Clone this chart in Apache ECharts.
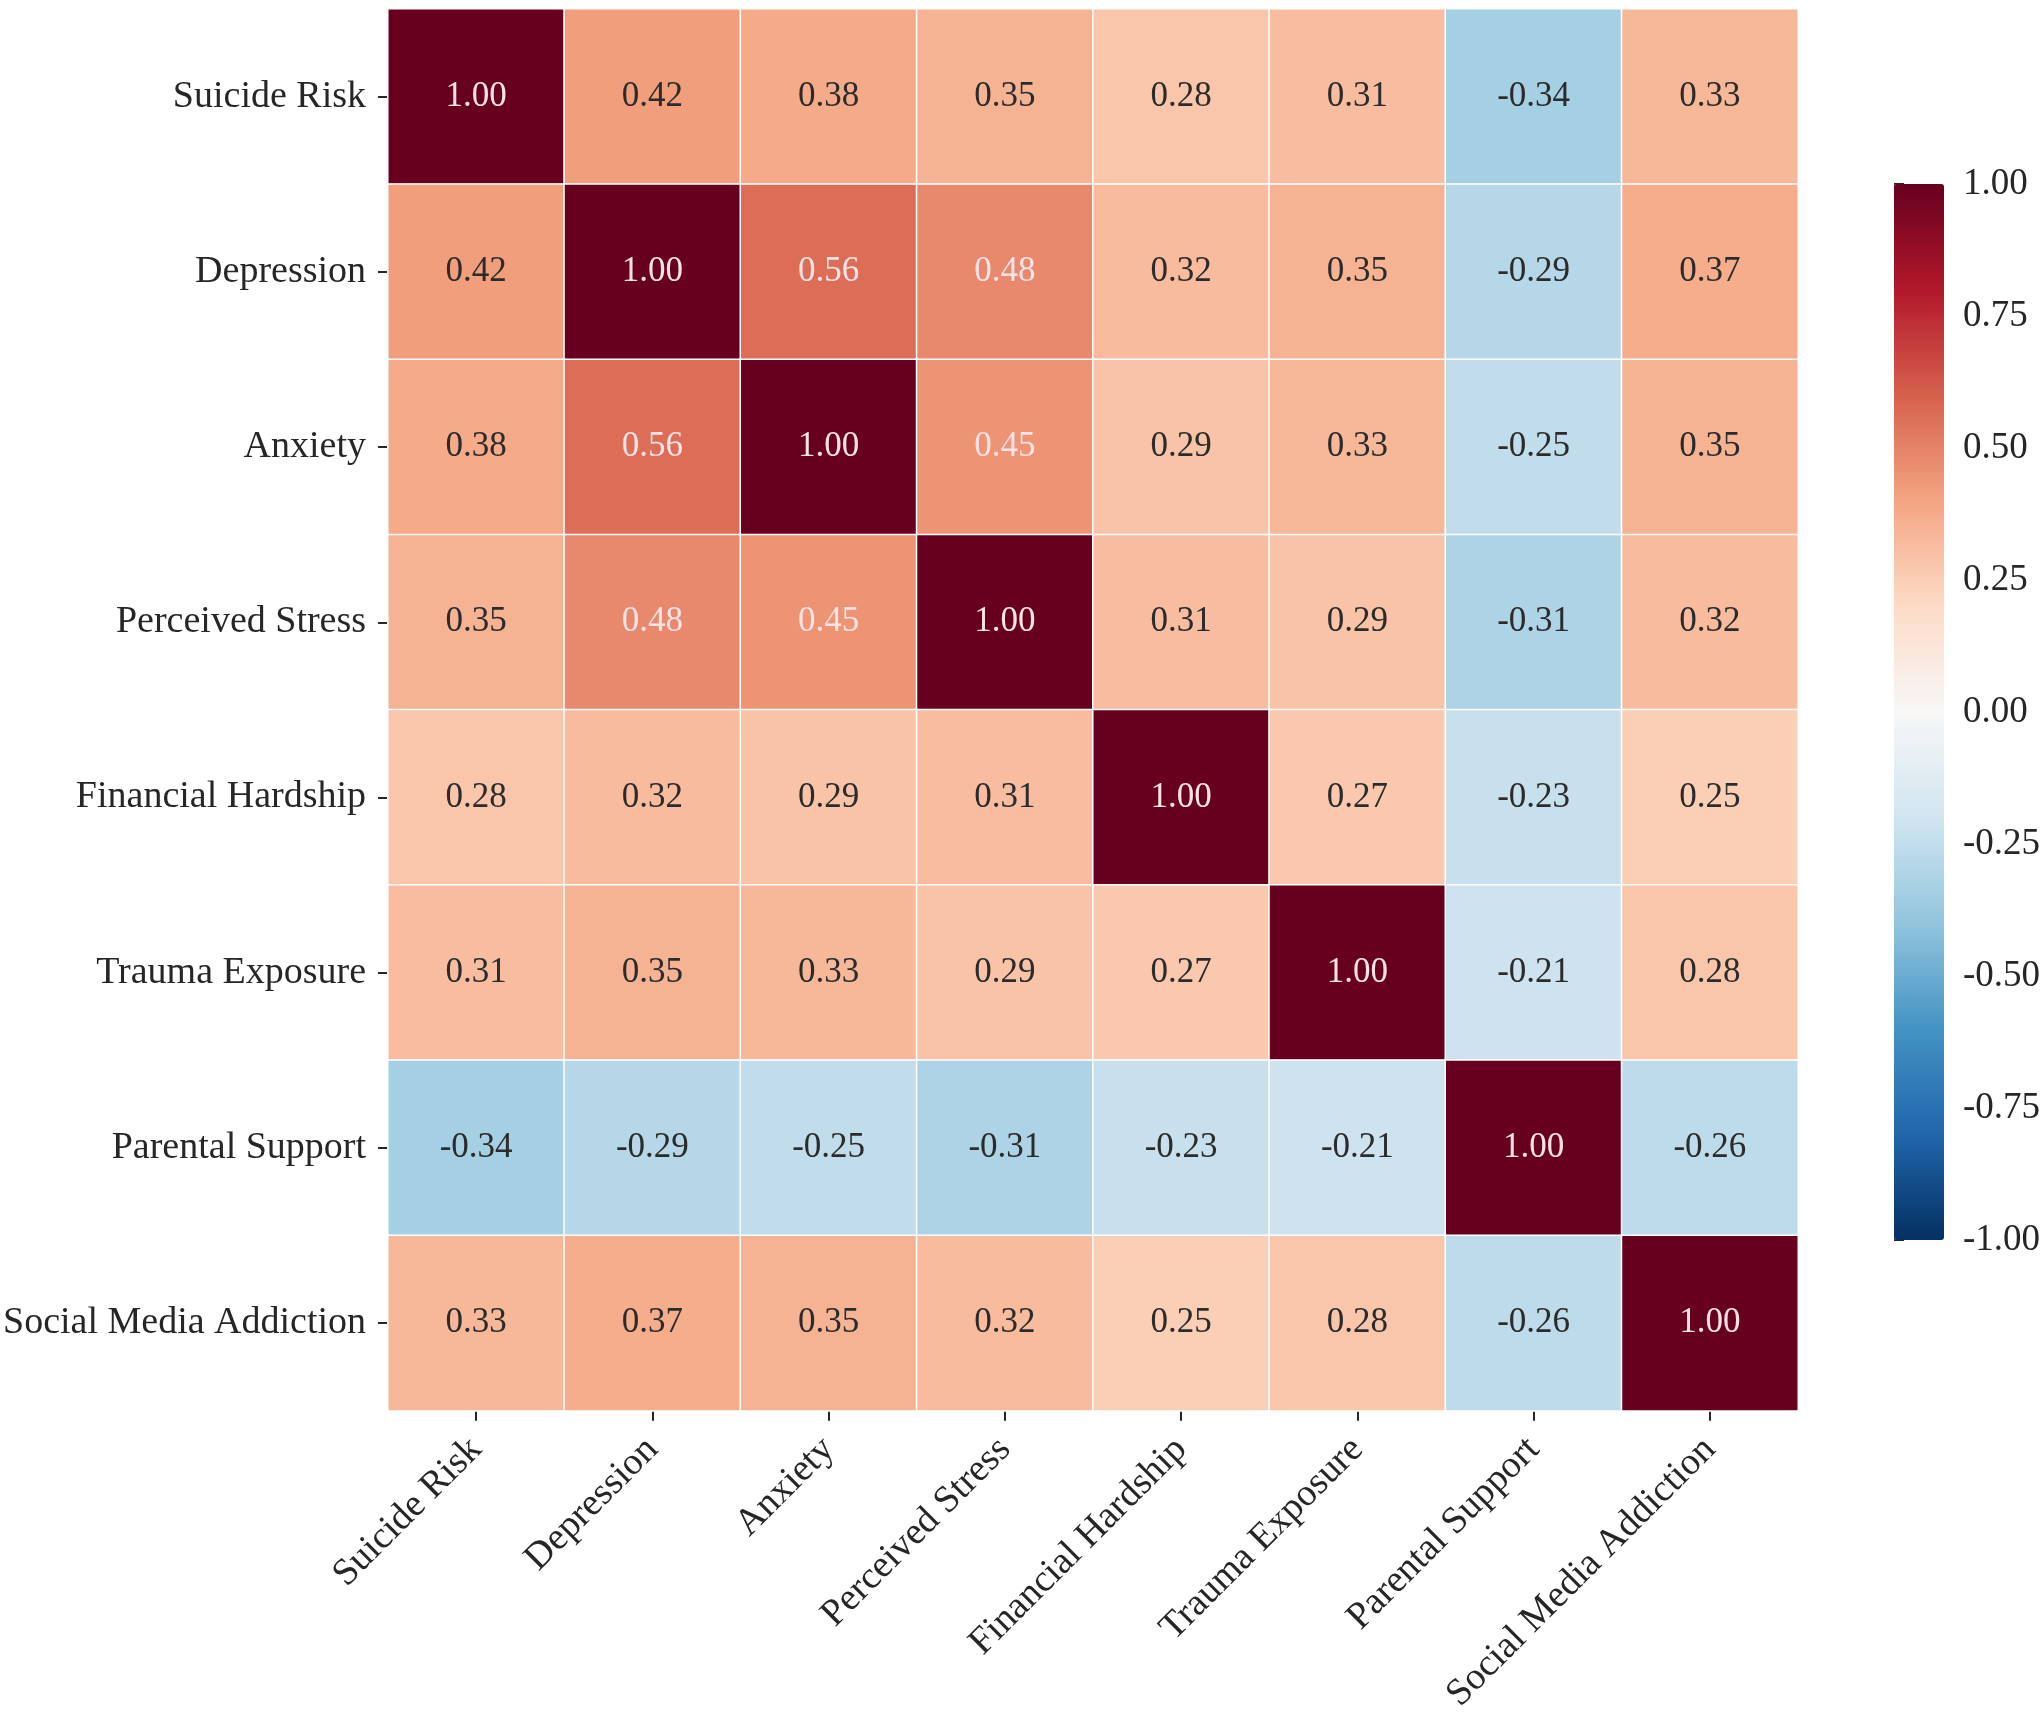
<!DOCTYPE html>
<html>
<head>
<meta charset="utf-8">
<script src="https://cdn.jsdelivr.net/npm/echarts@6/dist/echarts.min.js"></script>
<style>
html, body { margin: 0; padding: 0; background: #fff; }
#container { width: 2043px; height: 1716px; }
</style>
</head>
<body>
<div id="container"></div>
<script>
// variable names, top to bottom / left to right
var varNames = ['Suicide Risk', 'Depression', 'Anxiety', 'Perceived Stress',
    'Financial Hardship', 'Trauma Exposure', 'Parental Support', 'Social Media Addiction'];

// correlation rows
var rowSuicide   = [1.00, 0.42, 0.38, 0.35, 0.28, 0.31, -0.34, 0.33];
var rowDepress   = [0.42, 1.00, 0.56, 0.48, 0.32, 0.35, -0.29, 0.37];
var rowAnxiety   = [0.38, 0.56, 1.00, 0.45, 0.29, 0.33, -0.25, 0.35];
var rowStress    = [0.35, 0.48, 0.45, 1.00, 0.31, 0.29, -0.31, 0.32];
var rowFinance   = [0.28, 0.32, 0.29, 0.31, 1.00, 0.27, -0.23, 0.25];
var rowTrauma    = [0.31, 0.35, 0.33, 0.29, 0.27, 1.00, -0.21, 0.28];
var rowParental  = [-0.34, -0.29, -0.25, -0.31, -0.23, -0.21, 1.00, -0.26];
var rowSocial    = [0.33, 0.37, 0.35, 0.32, 0.25, 0.28, -0.26, 1.00];

var corrRows = [rowSuicide, rowDepress, rowAnxiety, rowStress,
    rowFinance, rowTrauma, rowParental, rowSocial];

// RdBu_r colour stops, -1 .. 1
var rdbuR = ['#053061', '#2166ac', '#4393c3', '#92c5de', '#d1e5f0', '#f7f7f7',
    '#fddbc7', '#f4a582', '#d6604d', '#b2182b', '#67001f'];

var FONT = 'Liberation Serif';

/*==========================================
 * 组装热力图数据
 */
function buildData() {
    var _data = [];
    for (var i = 0; i < corrRows.length; i++) {
        for (var j = 0; j < corrRows[i].length; j++) {
            var _v = corrRows[i][j];
            var _light = (_v > 0.44 || _v < -0.6);
            _data.push({
                value: [j, i, _v],
                label: { color: _light ? '#fbe3e6' : '#2b2b2b' }
            });
        }
    }
    return _data;
}

var dom = document.getElementById('container');
var myChart = echarts.init(dom);

var option = {
    backgroundColor: '#ffffff',
    animation: false,
    grid: [
        { left: 388, top: 9, width: 1410, height: 1407 },
        { left: 1894, top: 184, width: 50, height: 1056 }
    ],
    xAxis: [{
        type: 'category',
        gridIndex: 0,
        data: varNames,
        axisLine: { show: false },
        axisTick: { show: true, alignWithLabel: true, length: 10, lineStyle: { color: '#262626', width: 2 } },
        axisLabel: {
            interval: 0, rotate: 45, margin: 33,
            fontFamily: FONT, fontSize: 38, color: '#262626'
        },
        splitLine: { show: false }
    }, {
        type: 'value',
        gridIndex: 1,
        show: false
    }],
    yAxis: [{
        type: 'category',
        gridIndex: 0,
        data: varNames,
        inverse: true,
        axisLine: { show: false },
        axisTick: { show: true, alignWithLabel: true, length: 10, lineStyle: { color: '#262626', width: 2 } },
        axisLabel: {
            interval: 0, margin: 22,
            fontFamily: FONT, fontSize: 38, color: '#262626'
        },
        splitLine: { show: false }
    }, {
        type: 'value',
        gridIndex: 1,
        position: 'right',
        min: -1,
        max: 1,
        interval: 0.25,
        axisLine: { show: false },
        axisTick: { show: true, length: 10, lineStyle: { color: '#262626', width: 2 } },
        axisLabel: {
            margin: 20, fontFamily: FONT, fontSize: 37, color: '#262626',
            formatter: function(v) { return v.toFixed(2); }
        },
        splitLine: { show: false }
    }],
    visualMap: {
        type: 'continuous',
        seriesIndex: 0,
        min: -1,
        max: 1,
        calculable: false,
        hoverLink: false,
        handleSize: 0,
        indicatorSize: 0,
        left: 1894,
        top: 184,
        itemWidth: 50,
        itemHeight: 1056,
        padding: 0,
        text: null,
        showLabel: false,
        inRange: { color: rdbuR }
    },
    series: [{
        type: 'heatmap',
        xAxisIndex: 0,
        yAxisIndex: 0,
        data: buildData(),
        itemStyle: { borderColor: '#ffffff', borderWidth: 1.5 },
        label: {
            show: true,
            fontFamily: FONT,
            fontSize: 35,
            formatter: function(p) { return p.value[2].toFixed(2); }
        },
        emphasis: { disabled: true }
    }]
};

myChart.setOption(option, true);
</script>
</body>
</html>
